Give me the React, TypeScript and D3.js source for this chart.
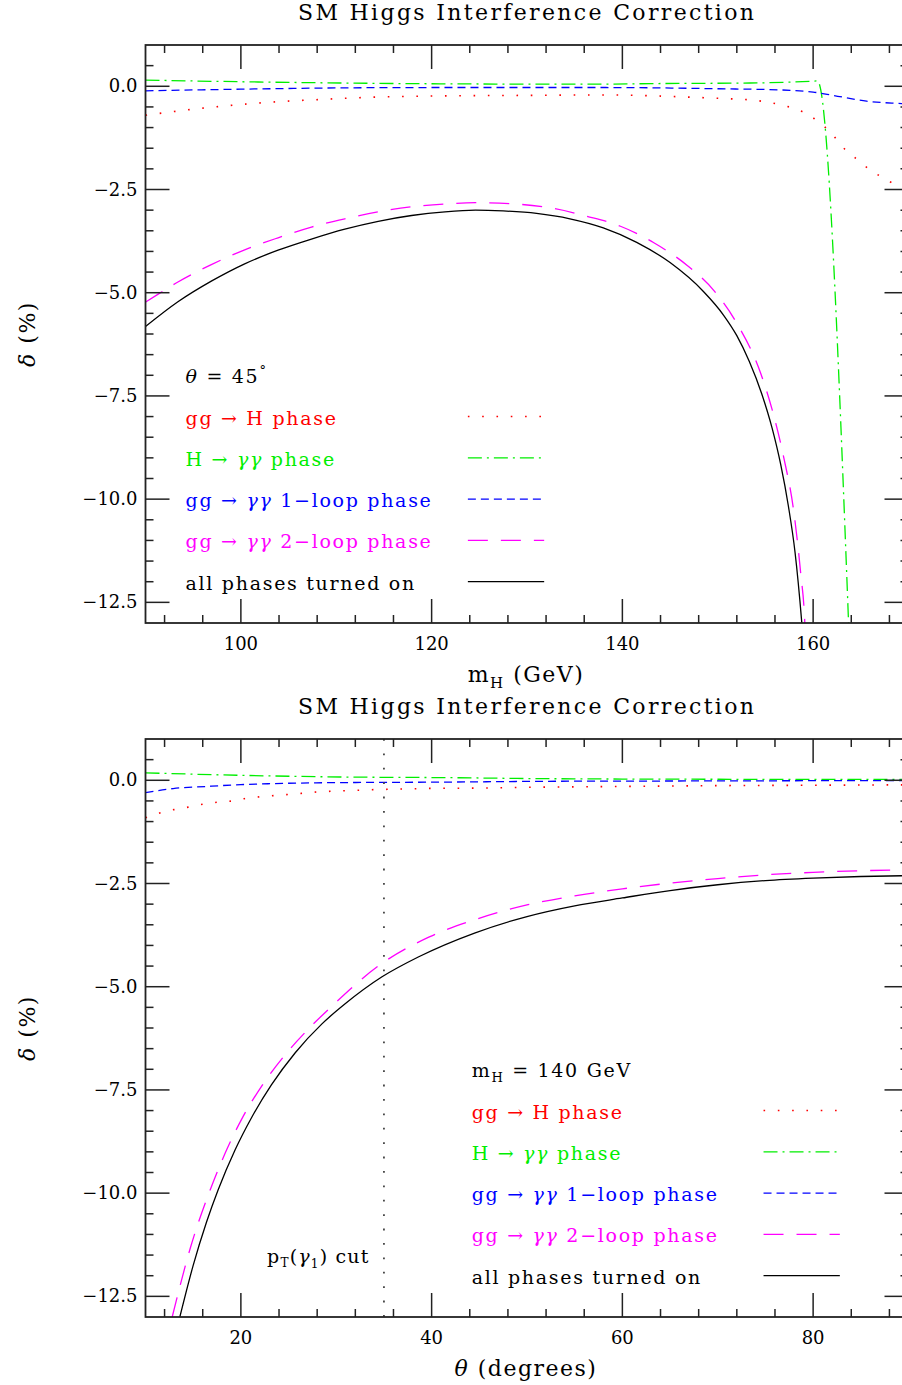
import React from 'react';
import * as d3 from 'd3';

// tick values
const massTicks = [100, 120, 140, 160];
const angleTicks = [20, 40, 60, 80];
const deltaTicks = [0, -2.5, -5, -7.5, -10, -12.5];

// top panel: delta (%) vs m_H, theta = 45 deg
const massGgH = [[90, -0.7], [96, -0.53], [102.2, -0.4], [108.3, -0.32], [114.4, -0.26], [120.4, -0.235], [130, -0.22], [138.7, -0.21], [143, -0.23], [147.8, -0.27], [151, -0.3], [153.9, -0.34], [156.8, -0.46], [158.3, -0.56], [159.7, -0.72], [160.9, -0.92], [162, -1.16], [163, -1.45], [164.1, -1.67], [165.2, -1.89], [166.5, -2.1], [167.7, -2.27], [169.3, -2.44], [170, -2.5]];
const massHgg = [[90, 0.15], [100, 0.11], [110.4, 0.08], [120.9, 0.06], [137.7, 0.05], [143, 0.065], [153.4, 0.08], [157.6, 0.1], [159.7, 0.12], [160.45, 0.13], [163.75, -13.2]];
const massOneLoop = [[90, -0.11], [100, -0.07], [110, -0.04], [120, -0.03], [138, -0.03], [150, -0.06], [156.8, -0.09], [160, -0.14], [162.1, -0.22], [165.6, -0.36], [169.3, -0.42], [170, -0.43]];
const massTwoLoop = [[90, -5.23], [91.5, -5.01], [93.4, -4.74], [96.9, -4.32], [100.4, -3.96], [103.9, -3.67], [107.4, -3.41], [110.9, -3.21], [114.4, -3.04], [117.9, -2.92], [121.4, -2.85], [124.6, -2.82], [129.3, -2.86], [132.8, -2.96], [136.3, -3.15], [139.8, -3.39], [143.3, -3.79], [146.8, -4.34], [149.6, -4.95], [152, -5.74], [154.5, -6.95], [155.9, -8.0], [156.9, -8.97], [158, -10.35], [158.7, -11.8], [159.1, -12.86], [159.15, -13.1]];
const massAll = [[90, -5.82], [93.4, -5.22], [96.9, -4.72], [100.4, -4.3], [103.9, -3.97], [107.4, -3.7], [110.9, -3.46], [114.4, -3.27], [117.9, -3.13], [121.4, -3.04], [124.6, -3.0], [127.5, -3.02], [131, -3.08], [134.5, -3.21], [138, -3.43], [141.5, -3.78], [145, -4.27], [148.5, -4.97], [150.6, -5.54], [152, -6.04], [153.3, -6.66], [154.6, -7.44], [155.7, -8.28], [156.6, -9.16], [157.4, -10.16], [158.1, -11.28], [158.8, -12.96], [158.85, -13.1]];

// bottom panel: delta (%) vs theta, m_H = 140 GeV
const angleGgH = [[10, -0.91], [11.5, -0.79], [13, -0.71], [14.5, -0.65], [16, -0.58], [17.6, -0.53], [19.1, -0.5], [20.5, -0.44], [22, -0.4], [25.2, -0.34], [28.2, -0.28], [31.3, -0.25], [34.2, -0.225], [37.2, -0.21], [40.2, -0.195], [44.7, -0.19], [50, -0.17], [60, -0.15], [70, -0.13], [80, -0.12], [90, -0.11]];
const angleHgg = [[10, 0.18], [20, 0.12], [30.4, 0.08], [40.9, 0.065], [51.4, 0.04], [60, 0.03], [70, 0.025], [80, 0.02], [90, 0.02]];
const angleOneLoop = [[10, -0.3], [12.9, -0.2], [16.4, -0.15], [20, -0.105], [23.4, -0.08], [30.4, -0.056], [40.9, -0.045], [51.4, -0.025], [60, -0.02], [70, -0.015], [80, -0.01], [90, -0.005]];
const angleTwoLoop = [[12.8, -13.0], [14.7, -11.33], [16.9, -9.85], [18.3, -9.06], [20.1, -8.2], [22.2, -7.4], [24.6, -6.66], [27.1, -6.02], [29.5, -5.48], [34.4, -4.5], [39.7, -3.8], [44.5, -3.38], [50, -3.02], [55, -2.8], [60, -2.63], [65, -2.49], [70, -2.38], [75, -2.29], [80, -2.23], [85, -2.19], [90, -2.17]];
const angleAll = [[13.6, -13.0], [15, -11.75], [16.4, -10.7], [17.6, -9.93], [19.4, -8.95], [21.1, -8.18], [23.2, -7.38], [25.7, -6.6], [28.5, -5.9], [30.9, -5.42], [34.8, -4.76], [38.6, -4.28], [44.5, -3.7], [50, -3.3], [55, -3.04], [60, -2.85], [65, -2.67], [70, -2.53], [75, -2.43], [80, -2.37], [85, -2.33], [90, -2.31]];

const ptCut = 35;

const styles = [
  { label: 'gg \u2192 H phase', color: '#ff0000', dash: '1.6 12.7', width: 1.6 },
  { label: 'H \u2192 \u03b3\u03b3 phase', color: '#00ee00', dash: '14 5 2 5', width: 1.3 },
  { label: 'gg \u2192 \u03b3\u03b3 1\u2212loop phase', color: '#0000ff', dash: '8 5', width: 1.3 },
  { label: 'gg \u2192 \u03b3\u03b3 2\u2212loop phase', color: '#ff00ff', dash: '20 13', width: 1.3 },
  { label: 'all phases turned on', color: '#000000', dash: null, width: 1.3 },
];

const FONT = 'DejaVu Serif';
const fmt = (v: number) => (v === 0 ? '0.0' : '\u2212' + Math.abs(v).toFixed(1));

// greek letters set in italic, like the math font of the original
function greek(s: string) {
  return s.split(/([\u03b1-\u03c9]+)/).map((part, i) =>
    /[\u03b1-\u03c9]/.test(part)
      ? <tspan key={i} fontStyle="italic">{part}</tspan>
      : <tspan key={i}>{part}</tspan>
  );
}

function Panel({ id, top, xDomain, xTicks, series, legendX, legendLineX, info, xLabel, children }: any) {
  const x = d3.scaleLinear().domain(xDomain).range([145.5, 908.5]);
  const y = d3.scaleLinear().domain([-13, 1]).range([top + 578, top]);
  const [x0, x1] = x.range();
  const [yb, yt] = y.range();
  const line = d3.line<number[]>().x(d => x(d[0])).y(d => y(d[1])).curve(d3.curveMonotoneX);

  const xMinor = d3.range(xTicks[0] - 8, xDomain[1] + 0.01, 4).filter(v => v > xDomain[0] && !xTicks.includes(v));
  const yMinor = d3.range(-13, 1.01, 0.5).filter(v => Math.abs(v / 2.5 - Math.round(v / 2.5)) > 1e-6 && v > -13 && v < 1);
  const rows = [-8, -9, -10, -11, -12];

  return (
    <g>
      <defs>
        <clipPath id={id}>
          <rect x={x0} y={yt} width={x1 - x0} height={yb - yt} />
        </clipPath>
      </defs>
      <text x={526} y={yt - 25} textAnchor="middle" fontSize={22} textLength={456} lengthAdjust="spacing">SM Higgs Interference Correction</text>

      <g clipPath={`url(#${id})`}>
        {series.map((s: number[][], i: number) => (
          <path key={i} d={line(s) || ''} fill="none" stroke={styles[i].color} strokeWidth={styles[i].width}
            strokeDasharray={styles[i].dash || undefined} />
        ))}
        {children && children(x, y)}
      </g>

      {/* frame */}
      <rect x={x0} y={yt} width={x1 - x0} height={yb - yt} fill="none" stroke="#222" strokeWidth={1.8} />
      {xTicks.map((v: number) => (
        <g key={'xm' + v}>
          <line x1={x(v)} x2={x(v)} y1={yb} y2={yb - 24} stroke="#222" strokeWidth={1.5} />
          <line x1={x(v)} x2={x(v)} y1={yt} y2={yt + 24} stroke="#222" strokeWidth={1.5} />
          <text x={x(v)} y={yb + 27} textAnchor="middle" fontSize={18}>{v}</text>
        </g>
      ))}
      {xMinor.map((v: number) => (
        <g key={'xn' + v}>
          <line x1={x(v)} x2={x(v)} y1={yb} y2={yb - 8} stroke="#222" strokeWidth={1.5} />
          <line x1={x(v)} x2={x(v)} y1={yt} y2={yt + 8} stroke="#222" strokeWidth={1.5} />
        </g>
      ))}
      {deltaTicks.map(v => (
        <g key={'ym' + v}>
          <line x1={x0} x2={x0 + 24} y1={y(v)} y2={y(v)} stroke="#222" strokeWidth={1.5} />
          <line x1={x1} x2={x1 - 24} y1={y(v)} y2={y(v)} stroke="#222" strokeWidth={1.5} />
          <text x={x0 - 8} y={y(v) + 6} textAnchor="end" fontSize={18}>{fmt(v)}</text>
        </g>
      ))}
      {yMinor.map(v => (
        <g key={'yn' + v}>
          <line x1={x0} x2={x0 + 8} y1={y(v)} y2={y(v)} stroke="#222" strokeWidth={1.5} />
          <line x1={x1} x2={x1 - 8} y1={y(v)} y2={y(v)} stroke="#222" strokeWidth={1.5} />
        </g>
      ))}

      {/* legend */}
      <text x={x(legendX)} y={y(-7) + 8} fontSize={19} letterSpacing={1.7}>{info}</text>
      {rows.map((r, i) => (
        <g key={'lg' + r}>
          <text x={x(legendX)} y={y(r) + 8} fontSize={19} letterSpacing={1.7} fill={styles[i].color}>{greek(styles[i].label)}</text>
          <line x1={x(legendLineX[0])} x2={x(legendLineX[1])} y1={y(r)} y2={y(r)} stroke={styles[i].color}
            strokeWidth={styles[i].width} strokeDasharray={styles[i].dash || undefined} />
        </g>
      ))}

      {/* axis titles */}
      <text x={526} y={yb + 59} textAnchor="middle" fontSize={22} letterSpacing={1.5}>{xLabel}</text>
      <text transform={`translate(35,${(yt + yb) / 2}) rotate(-90)`} textAnchor="middle" fontSize={22} letterSpacing={1.5}>
        {greek('\u03b4 (%)')}
      </text>
    </g>
  );
}

export default function App() {
  return (
    <div style={{ position: 'absolute', left: 0, top: 0 }}>
      <svg width={902} height={1385} style={{ display: 'block', fontFamily: FONT }}>
        <rect width={902} height={1385} fill="#fff" />
        <Panel
          id="clipTop"
          top={45}
          xDomain={[90, 170]}
          xTicks={massTicks}
          series={[massGgH, massHgg, massOneLoop, massTwoLoop, massAll]}
          legendX={94.2}
          legendLineX={[123.8, 131.8]}
          info={<><tspan fontStyle="italic">{'\u03b8'}</tspan>{' = 45'}<tspan dy={-8} fontSize={13}>{'\u00b0'}</tspan></>}
          xLabel={<>m<tspan dy={6} fontSize={15}>H</tspan><tspan dy={-6}>{' (GeV)'}</tspan></>}
        />
        <Panel
          id="clipBottom"
          top={739}
          xDomain={[10, 90]}
          xTicks={angleTicks}
          series={[angleGgH, angleHgg, angleOneLoop, angleTwoLoop, angleAll]}
          legendX={44.2}
          legendLineX={[74.8, 82.8]}
          info={<>m<tspan dy={5} fontSize={13}>H</tspan><tspan dy={-5}>{' = 140 GeV'}</tspan></>}
          xLabel={greek('\u03b8 (degrees)')}
        >
          {(x: any, y: any) => (
            <g>
              <line x1={x(ptCut)} x2={x(ptCut)} y1={y(1)} y2={y(-13)} stroke="#444" strokeWidth={1.8}
                strokeDasharray="1.8 12.6" />
              <text x={x(33.5)} y={y(-11.5) + 8} textAnchor="end" fontSize={19} letterSpacing={1.2}>
                p<tspan dy={4} fontSize={12}>T</tspan><tspan dy={-4}>(</tspan><tspan fontStyle="italic">{'\u03b3'}</tspan><tspan dy={5} fontSize={12}>1</tspan><tspan dy={-5}>) cut</tspan>
              </text>
            </g>
          )}
        </Panel>
      </svg>
    </div>
  );
}
